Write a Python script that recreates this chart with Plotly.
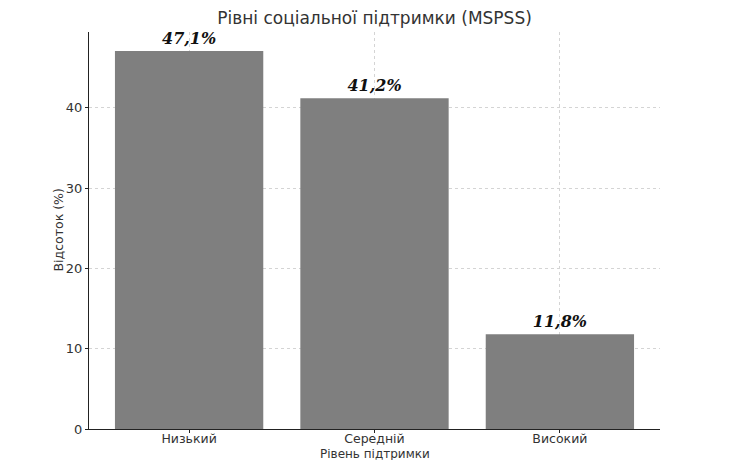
import plotly.graph_objects as go

# Рівні підтримки за шкалою MSPSS
categories = ["Низький", "Середній", "Високий"]
percents = [47.1, 41.2, 11.8]
y_ticks = [0, 10, 20, 30, 40]

bar_color = "#7f7f7f"
grid_color = "#d4d4d4"
axis_color = "#222222"
text_color = "#333333"

labels = [f"{v:.1f}%".replace(".", ",") for v in percents]

# сторінка має 8px відступ body, тому фігура менша за вікно на 16px
W, H = 713, 452
L, R, T, B = 81, 61, 24, 31
plot_w, plot_h = W - L - R, H - T - B

fig = go.Figure(go.Bar(
    x=list(range(len(categories))),
    y=percents,
    width=0.8,
    marker=dict(color=bar_color, line=dict(width=0)),
    text=labels,
    textposition="outside",
    cliponaxis=False,
    textfont=dict(family="DejaVu Serif", size=16, color="#111111",
                  weight="bold", style="italic"),
))

fig.update_layout(
    width=W, height=H,
    margin=dict(l=L, r=R, t=T, b=B),
    plot_bgcolor="white",
    paper_bgcolor="white",
    showlegend=False,
    font=dict(family="DejaVu Sans", size=13, color=text_color),
    title=dict(text="Рівні соціальної підтримки (MSPSS)",
               x=(L + W - R) / 2 / W, xanchor="center",
               y=1 - 10 / H, yanchor="middle",
               font=dict(size=17, color=text_color)),
    xaxis=dict(
        range=[-0.54, 2.54],
        tickvals=list(range(len(categories))),
        ticktext=categories,
        tickfont=dict(size=12.5),
        automargin=False,
        showline=True, linecolor=axis_color, linewidth=1,
        ticks="outside", ticklen=3, tickcolor=axis_color,
        ticklabelstandoff=-5,
        showgrid=True, gridcolor=grid_color, griddash="dot", gridwidth=1,
        zeroline=False,
    ),
    yaxis=dict(
        range=[0, 49.46],
        tickvals=y_ticks,
        automargin=False,
        showline=True, linecolor=axis_color, linewidth=1,
        ticks="outside", ticklen=3, tickcolor=axis_color,
        showgrid=True, gridcolor=grid_color, griddash="dot", gridwidth=1,
        zeroline=False,
    ),
    annotations=[
        dict(text="Рівень підтримки", xref="paper", yref="paper",
             x=0.5, y=-25 / plot_h, xanchor="center", yanchor="middle",
             showarrow=False, font=dict(size=12, color=text_color)),
        dict(text="Відсоток (%)", xref="paper", yref="paper",
             x=-31 / plot_w, y=0.5, xanchor="center", yanchor="middle",
             textangle=-90, showarrow=False,
             font=dict(size=12.5, color=text_color)),
    ],
)

fig.write_html("out.html")
